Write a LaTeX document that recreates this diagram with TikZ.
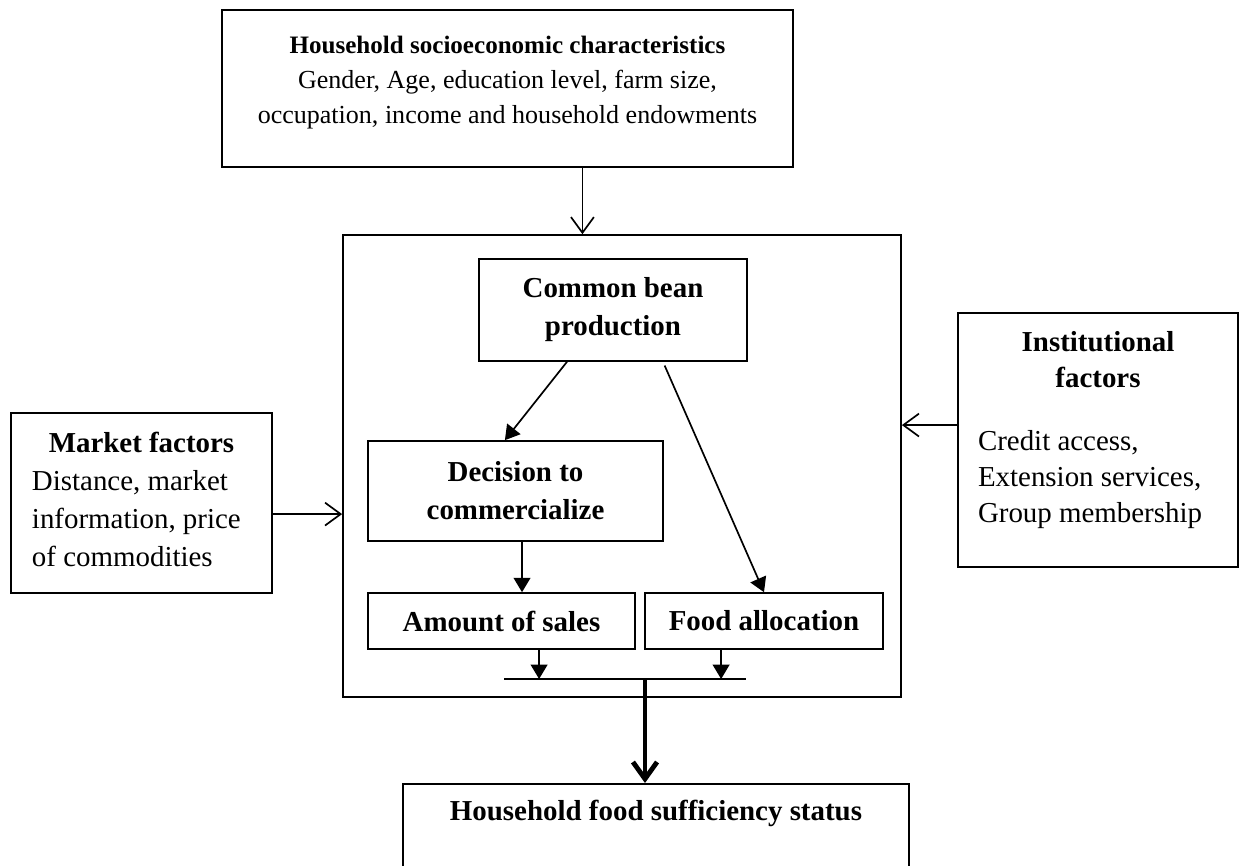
\documentclass[tikz,border=0pt]{standalone}
\usepackage{fontspec}
\setmainfont{Liberation Serif}
\usetikzlibrary{arrows.meta}

\begin{document}
\begin{tikzpicture}[x=0.415pt, y=-0.415pt,
    bx/.style={draw, line width=0.7pt, inner sep=0pt, font=\fontsize{12}{15.8}\selectfont},
    hd/.style={font=\fontsize{12}{15.8}\selectfont\bfseries},
    opn/.style={line width=0.7pt, -{Straight Barb[length=6.5pt,width=9.5pt]}},
    fil/.style={line width=0.7pt, -{Triangle[length=6pt,width=7pt]}}]

    \useasboundingbox (0,0) rectangle (1240,865);

    \node (hh) [bx, align=center, minimum width=237pt, minimum height=65.2pt, font=\fontsize{10.8}{14.5}\selectfont] at (507.5,88.5)
        {\fontsize{10.4}{14.5}\selectfont\textbf{Household socioeconomic characteristics}\\ Gender, Age, education level, farm size,\\ occupation, income and household endowments\rule[-7.4pt]{0pt}{7.4pt}};
    \node (big) [bx, minimum width=231.6pt, minimum height=191.7pt] at (622,466) {};
    \node (cb) [bx, hd, align=center, minimum width=111.2pt, minimum height=42.3pt] at (613,310) {Common bean\\ production};
    \node (dec) [bx, hd, align=center, minimum width=122.4pt, minimum height=41.5pt] at (515.5,491) {Decision to\\ commercialize};
    \node (sal) [bx, hd, minimum width=110.8pt, minimum height=23.2pt] at (501.5,621) {Amount of sales};
    \node (food) [bx, hd, minimum width=98.8pt, minimum height=23.2pt] at (764,621) {Food allocation};
    \node (mk) [bx, align=left, minimum width=108.3pt, minimum height=74.7pt] at (141.5,503)
        {\makebox[90.9pt]{\textbf{Market factors}}\\ Distance, market\\ information, price\\ of commodities\rule[-3pt]{0pt}{3pt}};
    \node (inst) [bx, align=left, minimum width=116.2pt, minimum height=105.4pt, font=\fontsize{12}{15}\selectfont] at (1098,440)
        {\makebox[99.6pt]{\textbf{Institutional}}\\ \makebox[99.6pt]{\textbf{factors}}\\[11pt] Credit access,\\ Extension services,\\ Group membership\rule[-10.7pt]{0pt}{10.7pt}};
    \node (fs) [bx, hd, anchor=north, minimum width=210pt, text height=15.4pt, text depth=40pt] at (656,783) {Household food sufficiency status};
    \coordinate (ml) at (504,679);
    \coordinate (mr) at (746,679);
    \coordinate (mj) at (645,679);

    \draw [opn] ([xshift=31.1pt]hh.south) to ([xshift=31.1pt]hh.south |- big.north);
    \draw [opn] ([yshift=-4.6pt]mk.east) to ([yshift=-4.6pt]mk.east -| big.west);
    \draw [opn] ([yshift=6.2pt]inst.west) to ([yshift=6.2pt]inst.west -| big.east);
    \draw [fil] ([xshift=-19.1pt]cb.south) to ([xshift=-4.4pt]dec.north);
    \draw [fil, shorten <=1.7pt] ([xshift=20.75pt]cb.south) to (food.north);
    \draw [fil] ([xshift=2.7pt]dec.south) to ([xshift=2.7pt]dec.south |- sal.north);
    \draw [line width=0.7pt] (ml) to (mr);
    \draw [fil] ([xshift=15.6pt]sal.south) to ([xshift=15.6pt]sal.south |- ml);
    \draw [fil] ([xshift=-17.8pt]food.south) to ([xshift=-17.8pt]food.south |- ml);
    \draw [line width=2pt, -{Straight Barb[length=7pt,width=10pt]}] (mj) to (mj |- fs.north);

\end{tikzpicture}
\end{document}
